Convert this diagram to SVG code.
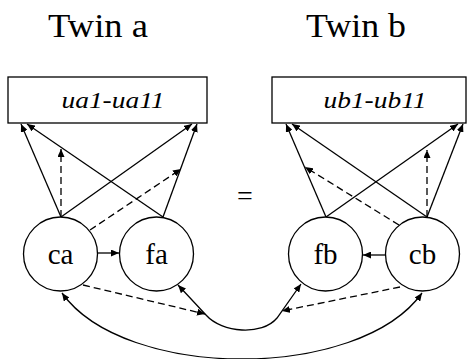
<svg xmlns="http://www.w3.org/2000/svg" width="468" height="359" viewBox="0 0 468 359">
<style>
text{font-family:"Liberation Serif","Times New Roman",Times,serif;fill:#000}
.n{fill:none;stroke:#000;stroke-width:1.3}
.e{fill:none;stroke:#000;stroke-width:1.3;marker-end:url(#ah)}
.d{stroke-dasharray:7,4}
.b{marker-start:url(#ah)}
</style>
<defs>
<marker id="ah" markerUnits="userSpaceOnUse" markerWidth="9" markerHeight="7" refX="8" refY="3.5" orient="auto-start-reverse">
<path d="M0,0 L8,3.5 L0,7 z" fill="#000"/>
</marker>
</defs>
<text x="98" y="37" font-family="Liberation Serif, serif" font-size="34" text-anchor="middle" textLength="100" lengthAdjust="spacingAndGlyphs">Twin a</text>
<text x="356" y="37" font-family="Liberation Serif, serif" font-size="34" text-anchor="middle" textLength="100" lengthAdjust="spacingAndGlyphs">Twin b</text>
<text x="245" y="205" font-family="Liberation Serif, serif" font-size="28" text-anchor="middle">=</text>
<g id="ua">
<rect class="n" x="8" y="77" width="199" height="46"/>
<text x="113" y="108" font-family="Liberation Serif, serif" font-size="23" font-style="italic" text-anchor="middle" textLength="103" lengthAdjust="spacingAndGlyphs">ua1-ua11</text>
</g>
<g id="ub">
<rect class="n" x="272" y="77" width="194" height="46"/>
<text x="375" y="108" font-family="Liberation Serif, serif" font-size="23" font-style="italic" text-anchor="middle" textLength="103" lengthAdjust="spacingAndGlyphs">ub1-ub11</text>
</g>
<g id="ca">
<circle class="n" cx="60.5" cy="254" r="37"/>
<text x="60.5" y="264" font-family="Liberation Serif, serif" font-size="29" text-anchor="middle">ca</text>
</g>
<g id="fa">
<circle class="n" cx="156.5" cy="254" r="37"/>
<text x="156.5" y="264" font-family="Liberation Serif, serif" font-size="29" text-anchor="middle">fa</text>
</g>
<g id="fb">
<circle class="n" cx="325.5" cy="254" r="37"/>
<text x="325.5" y="264" font-family="Liberation Serif, serif" font-size="29" text-anchor="middle">fb</text>
</g>
<g id="cb">
<circle class="n" cx="422.5" cy="254" r="37"/>
<text x="422.5" y="264" font-family="Liberation Serif, serif" font-size="29" text-anchor="middle">cb</text>
</g>
<g id="connectors">
<line class="e" x1="61" y1="217" x2="21" y2="124"/>
<line class="e" x1="61" y1="217" x2="192" y2="124"/>
<line class="e" x1="163" y1="217" x2="27" y2="124"/>
<line class="e" x1="163" y1="217" x2="197" y2="124"/>
<line class="e d" x1="61" y1="217" x2="61" y2="149"/>
<line class="e d" x1="90" y1="230" x2="181" y2="169"/>
<line class="e" x1="98" y1="253" x2="119" y2="253"/>
<line class="e" x1="326" y1="217" x2="286" y2="124"/>
<line class="e" x1="326" y1="217" x2="458" y2="124"/>
<line class="e" x1="427" y1="217" x2="292" y2="124"/>
<line class="e" x1="427" y1="217" x2="463" y2="124"/>
<line class="e d" x1="427" y1="217" x2="427" y2="150"/>
<line class="e d" x1="399" y1="225" x2="305" y2="167"/>
<line class="e" x1="386" y1="255" x2="363" y2="255"/>
<line class="e d" x1="83" y1="285" x2="205" y2="314"/>
<line class="e d" x1="400" y1="287" x2="282" y2="311"/>
<path class="e b" d="M178,285 L206,315 C222,333 262,336 277,318 L301,284"/>
<path class="e b" d="M62,293 C125,381 359,381 422,293"/>
</g>
</svg>
